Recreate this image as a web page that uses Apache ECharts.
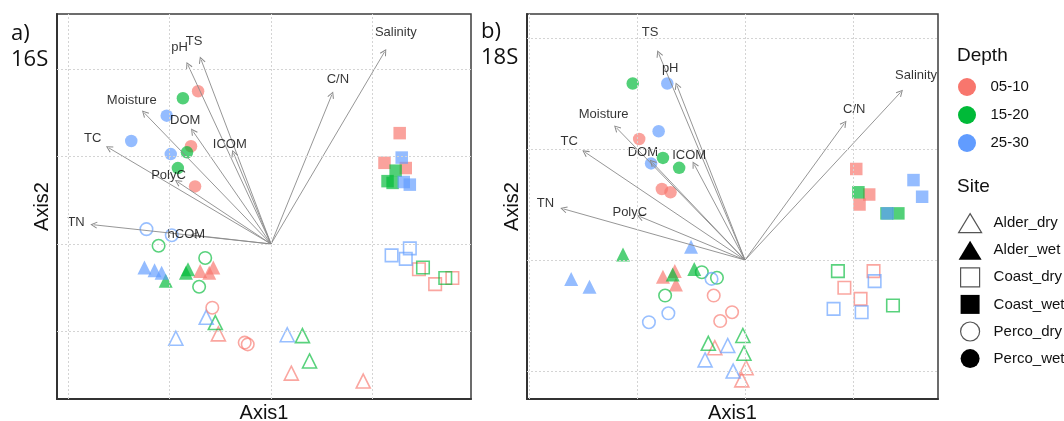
<!DOCTYPE html>
<html><head><meta charset="utf-8">
<script src="https://cdn.jsdelivr.net/npm/echarts@6/dist/echarts.min.js"></script>
<style>html,body{margin:0;padding:0;background:#fff}#c{width:1064px;height:421px}</style>
</head><body><div id="c"></div>
<script>
// ---------- data ----------
const depths = ['05-10', '15-20', '25-30'];
const depthColors = ['#F8766D', '#00BA38', '#619CFF'];
const sites = ['Alder_dry', 'Alder_wet', 'Coast_dry', 'Coast_wet', 'Perco_dry', 'Perco_wet'];
const panelTitles = ['a)\n16S', 'b)\n18S'];
const axisNames = ['Axis1', 'Axis2'];
const depthTitle = 'Depth';
const siteTitle = 'Site';

// [Axis1, Axis2, site, depth]
const points16S = [
  [-0.72, 1.75, 'Perco_wet', '05-10'], [-0.87, 1.67, 'Perco_wet', '15-20'], [-1.03, 1.47, 'Perco_wet', '25-30'],
  [-1.38, 1.18, 'Perco_wet', '25-30'], [-0.79, 1.12, 'Perco_wet', '05-10'], [-0.83, 1.05, 'Perco_wet', '15-20'],
  [-0.99, 1.03, 'Perco_wet', '25-30'], [-0.92, 0.87, 'Perco_wet', '15-20'], [-0.75, 0.66, 'Perco_wet', '05-10'],
  [-1.23, 0.17, 'Perco_dry', '25-30'], [-0.98, 0.10, 'Perco_dry', '25-30'], [-1.11, -0.02, 'Perco_dry', '15-20'],
  [-0.65, -0.16, 'Perco_dry', '15-20'], [-0.71, -0.49, 'Perco_dry', '15-20'], [-0.58, -0.73, 'Perco_dry', '05-10'],
  [-0.26, -1.13, 'Perco_dry', '05-10'], [-0.23, -1.15, 'Perco_dry', '05-10'],
  [-1.25, -0.27, 'Alder_wet', '25-30'], [-1.15, -0.30, 'Alder_wet', '25-30'], [-1.08, -0.33, 'Alder_wet', '25-30'],
  [-1.04, -0.42, 'Alder_wet', '15-20'], [-0.82, -0.29, 'Alder_wet', '15-20'], [-0.84, -0.33, 'Alder_wet', '15-20'],
  [-0.70, -0.31, 'Alder_wet', '05-10'], [-0.61, -0.33, 'Alder_wet', '05-10'], [-0.57, -0.27, 'Alder_wet', '05-10'],
  [-0.64, -0.84, 'Alder_dry', '25-30'], [-0.55, -0.90, 'Alder_dry', '15-20'], [-0.52, -1.03, 'Alder_dry', '05-10'],
  [-0.94, -1.08, 'Alder_dry', '25-30'], [0.16, -1.04, 'Alder_dry', '25-30'], [0.31, -1.05, 'Alder_dry', '15-20'],
  [0.38, -1.34, 'Alder_dry', '15-20'], [0.20, -1.48, 'Alder_dry', '05-10'], [0.91, -1.57, 'Alder_dry', '05-10'],
  [1.19, -0.13, 'Coast_dry', '25-30'], [1.37, -0.05, 'Coast_dry', '25-30'], [1.33, -0.17, 'Coast_dry', '25-30'],
  [1.46, -0.29, 'Coast_dry', '05-10'], [1.50, -0.27, 'Coast_dry', '15-20'], [1.62, -0.46, 'Coast_dry', '05-10'],
  [1.72, -0.39, 'Coast_dry', '15-20'], [1.79, -0.39, 'Coast_dry', '05-10'],
  [1.27, 1.27, 'Coast_wet', '05-10'], [1.12, 0.93, 'Coast_wet', '05-10'], [1.29, 0.99, 'Coast_wet', '25-30'],
  [1.33, 0.87, 'Coast_wet', '05-10'], [1.23, 0.84, 'Coast_wet', '15-20'], [1.15, 0.72, 'Coast_wet', '15-20'],
  [1.20, 0.70, 'Coast_wet', '15-20'], [1.31, 0.71, 'Coast_wet', '25-30'], [1.37, 0.68, 'Coast_wet', '25-30']
];
const points18S = [
  [-1.04, 1.59, 'Perco_wet', '15-20'], [-0.72, 1.59, 'Perco_wet', '25-30'], [-0.80, 1.16, 'Perco_wet', '25-30'],
  [-0.98, 1.09, 'Perco_wet', '05-10'], [-0.76, 0.92, 'Perco_wet', '15-20'], [-0.87, 0.87, 'Perco_wet', '25-30'],
  [-0.61, 0.83, 'Perco_wet', '15-20'], [-0.77, 0.64, 'Perco_wet', '05-10'], [-0.69, 0.61, 'Perco_wet', '05-10'],
  [-0.50, 0.12, 'Alder_wet', '25-30'], [-1.13, 0.05, 'Alder_wet', '15-20'], [-1.61, -0.17, 'Alder_wet', '25-30'],
  [-1.44, -0.24, 'Alder_wet', '25-30'], [-0.76, -0.15, 'Alder_wet', '05-10'], [-0.65, -0.10, 'Alder_wet', '05-10'],
  [-0.64, -0.22, 'Alder_wet', '05-10'], [-0.67, -0.13, 'Alder_wet', '15-20'], [-0.47, -0.08, 'Alder_wet', '15-20'],
  [-0.40, -0.11, 'Perco_dry', '15-20'], [-0.26, -0.16, 'Perco_dry', '15-20'], [-0.74, -0.32, 'Perco_dry', '15-20'],
  [-0.31, -0.17, 'Perco_dry', '25-30'], [-0.29, -0.32, 'Perco_dry', '05-10'], [-0.12, -0.47, 'Perco_dry', '05-10'],
  [-0.23, -0.55, 'Perco_dry', '05-10'], [-0.71, -0.48, 'Perco_dry', '25-30'], [-0.89, -0.56, 'Perco_dry', '25-30'],
  [-0.02, -0.68, 'Alder_dry', '15-20'], [-0.34, -0.75, 'Alder_dry', '15-20'], [-0.01, -0.84, 'Alder_dry', '15-20'],
  [-0.28, -0.79, 'Alder_dry', '05-10'], [0.01, -0.97, 'Alder_dry', '05-10'], [-0.03, -1.08, 'Alder_dry', '05-10'],
  [-0.16, -0.77, 'Alder_dry', '25-30'], [-0.37, -0.90, 'Alder_dry', '25-30'], [-0.11, -1.00, 'Alder_dry', '25-30'],
  [1.03, 0.82, 'Coast_wet', '05-10'], [1.05, 0.61, 'Coast_wet', '15-20'], [1.15, 0.59, 'Coast_wet', '05-10'],
  [1.06, 0.50, 'Coast_wet', '05-10'], [1.56, 0.72, 'Coast_wet', '25-30'], [1.64, 0.57, 'Coast_wet', '25-30'],
  [1.31, 0.42, 'Coast_wet', '15-20'], [1.32, 0.42, 'Coast_wet', '25-30'], [1.42, 0.42, 'Coast_wet', '15-20'],
  [0.86, -0.10, 'Coast_dry', '15-20'], [1.19, -0.10, 'Coast_dry', '05-10'], [1.20, -0.19, 'Coast_dry', '25-30'],
  [0.92, -0.25, 'Coast_dry', '05-10'], [1.07, -0.35, 'Coast_dry', '05-10'], [1.37, -0.41, 'Coast_dry', '15-20'],
  [0.82, -0.44, 'Coast_dry', '25-30'], [1.08, -0.47, 'Coast_dry', '25-30']
];

const vectorNames16S = ['TS', 'pH', 'Moisture', 'DOM', 'ICOM', 'TC', 'PolyC', 'TN', 'hCOM', 'C/N', 'Salinity'];
const vectors16S = [[-0.69, 2.11], [-0.82, 2.05], [-1.25, 1.50], [-0.77, 1.29], [-0.37, 1.04], [-1.60, 1.10],
  [-0.92, 0.71], [-1.75, 0.22], [-0.76, 0.10], [0.60, 1.71], [1.12, 2.20]];
const vectorNames18S = ['TS', 'pH', 'Moisture', 'TC', 'DOM', 'ICOM', 'TN', 'PolyC', 'C/N', 'Salinity'];
const vectors18S = [[-0.80, 1.86], [-0.63, 1.57], [-1.19, 1.19], [-1.48, 0.97], [-0.86, 0.88], [-0.47, 0.86],
  [-1.68, 0.46], [-0.97, 0.39], [0.92, 1.23], [1.44, 1.51]];

// axis extents and grid-line values (arbitrary ordination units)
const xRange16S = [-2.113, 1.974], yRange16S = [-1.776, 2.635];
const xRange18S = [-2.019, 1.787], yRange18S = [-1.252, 2.216];
const gridX16S = [-2, -1, 0, 1], gridY16S = [-1, 0, 1, 2];
const gridX18S = [-2, -1, 0, 1], gridY18S = [-1, 0, 1, 2];
const labelScale = 1.1;

// ---------- build ----------
const FONT = 'Liberation Sans';
const squarePath = 'path://M0,0L10,0L10,10L0,10Z';
const arrowHead = 'path://M5,0L10,9L8.7,9.7L5,2.8L1.3,9.7L0,9Z';
function siteShape(site) {
  if (site.startsWith('Alder')) return { symbol: 'triangle', size: 14 };
  if (site.startsWith('Coast')) return { symbol: 'rect', size: 12.5 };
  return { symbol: 'circle', size: 12.5 };
}
const panels = [
  { pts: points16S, names: vectorNames16S, vecs: vectors16S, gx: gridX16S, gy: gridY16S },
  { pts: points18S, names: vectorNames18S, vecs: vectors18S, gx: gridX18S, gy: gridY18S }
];
const series = [];
panels.forEach((p, pi) => {
  series.push({
    type: 'scatter', xAxisIndex: pi, yAxisIndex: pi, data: [], silent: true, z: 1,
    markLine: {
      silent: true, symbol: ['none', 'none'], label: { show: false }, animation: false,
      lineStyle: { type: [2, 2], color: '#d4d4d4', width: 1 },
      emphasis: { disabled: true },
      data: p.gx.map(v => ({ xAxis: v })).concat(p.gy.map(v => ({ yAxis: v })))
    }
  });
  sites.forEach(site => {
    const sh = siteShape(site);
    const hollow = site.endsWith('_dry');
    depths.forEach((d, di) => {
      const data = p.pts.filter(r => r[2] === site && r[3] === d).map(r => [r[0], r[1]]);
      if (!data.length) return;
      const col = depthColors[di];
      series.push({
        type: 'scatter', name: (pi ? '18S ' : '16S ') + site + ' ' + d,
        xAxisIndex: pi, yAxisIndex: pi, z: 2,
        symbol: sh.symbol, symbolSize: sh.size, data,
        itemStyle: hollow ? { color: 'rgba(0,0,0,0)', borderColor: col, borderWidth: 1.6, opacity: 0.65 }
                          : { color: col, opacity: 0.68 },
        emphasis: { disabled: true }
      });
    });
  });
  series.push({
    type: 'lines', coordinateSystem: 'cartesian2d', xAxisIndex: pi, yAxisIndex: pi, z: 3,
    polyline: false, silent: true,
    symbol: ['none', arrowHead], symbolSize: [6, 7],
    lineStyle: { color: '#8a8a8a', width: 0.9, opacity: 1, curveness: 0 },
    data: p.vecs.map(v => ({ coords: [[0, 0], [v[0], v[1]]] }))
  });
  series.push({
    type: 'scatter', xAxisIndex: pi, yAxisIndex: pi, z: 4, silent: true,
    symbol: 'circle', symbolSize: 1, itemStyle: { color: 'rgba(0,0,0,0)' },
    label: { show: true, position: 'inside', formatter: '{b}', color: '#000', fontSize: 13, fontFamily: FONT },
    data: p.vecs.map((v, i) => ({ name: p.names[i], value: [v[0] * labelScale, v[1] * labelScale] }))
  });
});
// legend-only series
depths.forEach(d => series.push({ type: 'scatter', name: d, data: [], xAxisIndex: 0, yAxisIndex: 0 }));
sites.forEach(s => series.push({ type: 'scatter', name: s, data: [], xAxisIndex: 0, yAxisIndex: 0 }));

const grids = [
  { left: 57, top: 14, width: 414, height: 385 },
  { left: 527, top: 14, width: 411, height: 385 }
].map(g => Object.assign(g, { show: true, borderColor: '#3c3c3c', borderWidth: 1.5, containLabel: false, outerBoundsMode: 'none' }));

function xAx(pi, r) {
  return {
    type: 'value', gridIndex: pi, min: r[0], max: r[1], name: axisNames[0], nameLocation: 'middle', nameGap: 4,
    nameTextStyle: { fontSize: 20, fontFamily: FONT, color: '#111', verticalAlign: 'top' },
    axisLine: { show: true, onZero: false, lineStyle: { color: '#333', width: 2 } },
    axisTick: { show: false }, axisLabel: { show: false }, splitLine: { show: false }
  };
}
function yAx(pi, r) {
  return {
    type: 'value', gridIndex: pi, min: r[0], max: r[1], name: axisNames[1], nameLocation: 'middle', nameGap: 5,
    nameTextStyle: { fontSize: 20, fontFamily: FONT, color: '#111' },
    axisLine: { show: true, onZero: false, lineStyle: { color: '#333', width: 2 } },
    axisTick: { show: false }, axisLabel: { show: false }, splitLine: { show: false }
  };
}
const siteIcons = {
  Alder_dry: ['triangle', true], Alder_wet: ['triangle', false],
  Coast_dry: [squarePath, true], Coast_wet: [squarePath, false],
  Perco_dry: ['circle', true], Perco_wet: ['circle', false]
};
const titleStyle = { fontSize: 22, lineHeight: 26, fontWeight: 'normal', fontFamily: 'Open Sans', color: '#111' };
const option = {
  animation: false,
  backgroundColor: '#fff',
  grid: grids,
  xAxis: [xAx(0, xRange16S), xAx(1, xRange18S)],
  yAxis: [yAx(0, yRange16S), yAx(1, yRange18S)],
  title: [
    { text: panelTitles[0], left: 11, top: 21, padding: 0, textStyle: titleStyle },
    { text: panelTitles[1], left: 481, top: 19, padding: 0, textStyle: titleStyle },
    { text: depthTitle, left: 957, top: 46, padding: 0, textStyle: { fontSize: 19, fontWeight: 'normal', fontFamily: FONT, color: '#111' } },
    { text: siteTitle, left: 957, top: 177, padding: 0, textStyle: { fontSize: 19, fontWeight: 'normal', fontFamily: FONT, color: '#111' } }
  ],
  legend: [
    {
      orient: 'vertical', left: 958, top: 78, padding: 0, itemWidth: 23, itemHeight: 18, itemGap: 10, selectedMode: false,
      textStyle: { fontSize: 15, fontFamily: FONT, color: '#111', padding: [0, 0, 0, 7] },
      data: depths.map((d, i) => ({ name: d, icon: 'circle', itemStyle: { color: depthColors[i], borderWidth: 0, opacity: 1 } }))
    },
    {
      orient: 'vertical', left: 958, top: 213, padding: 0, itemWidth: 23, itemHeight: 19, itemGap: 7.5, selectedMode: false,
      textStyle: { fontSize: 15, fontFamily: FONT, color: '#111', padding: [0, 0, 0, 7] },
      data: sites.map(s => {
        const [ic, hollow] = siteIcons[s];
        return {
          name: s, icon: ic,
          itemStyle: hollow ? { color: '#fff', borderColor: '#555', borderWidth: 1.2, opacity: 1 }
                            : { color: '#000', borderWidth: 0, opacity: 1 }
        };
      })
    }
  ],
  series
};
const chart = echarts.init(document.getElementById('c'), null, { renderer: 'canvas' });
chart.setOption(option);
</script>
</body></html>
